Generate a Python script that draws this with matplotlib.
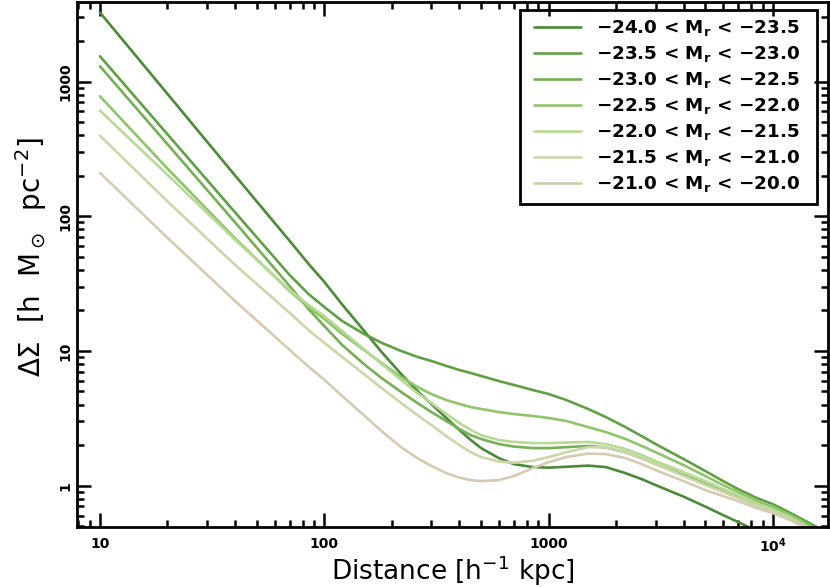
import matplotlib
matplotlib.use("Agg")
import matplotlib.pyplot as plt
from matplotlib.patches import Rectangle
from matplotlib.ticker import FixedLocator, FixedFormatter, LogLocator, NullFormatter

plt.rcParams['font.family'] = ['DejaVu Sans']
plt.rcParams['mathtext.fontset'] = 'dejavusans'

# projected distance (h^-1 kpc)
distance = [10, 20, 40, 70, 85, 100, 120, 150, 180, 220, 260, 300, 350, 400, 450,
            500, 600, 700, 850, 1000, 1200, 1500, 1800, 2200, 2600, 3000, 4000,
            5000, 6000, 7000, 8500, 10000, 12000, 14000, 16000]

# Delta Sigma (h M_sun pc^-2) for each absolute magnitude bin
ds_m240_235 = [3258, 810, 201, 65.8, 44.4, 32.6, 22.2, 14.2, 9.83, 6.75, 5.04, 4.04,
               3.18, 2.59, 2.18, 1.90, 1.60, 1.445, 1.373, 1.36, 1.38, 1.408, 1.373,
               1.238, 1.118, 1.009, 0.828, 0.698, 0.604, 0.536, 0.459, 0.41, 0.355,
               0.31, 0.28]
ds_m235_230 = [1542, 406, 107, 36.7, 26.5, 21.2, 16.7, 13.4, 11.5, 10.0, 9.03, 8.43,
               7.74, 7.22, 6.86, 6.52, 5.98, 5.59, 5.13, 4.79, 4.32, 3.71, 3.23,
               2.72, 2.33, 2.035, 1.574, 1.282, 1.080, 0.942, 0.807, 0.728, 0.625,
               0.545, 0.483]
ds_m230_225 = [1300, 343, 90.2, 30.4, 20.5, 15.3, 11.1, 8.00, 6.30, 4.96, 4.11, 3.52,
               3.02, 2.63, 2.37, 2.22, 2.035, 1.95, 1.90, 1.90, 1.93, 1.97, 1.92,
               1.77, 1.60, 1.445, 1.197, 1.026, 0.910, 0.821, 0.716, 0.646, 0.564,
               0.491, 0.443]
ds_m225_220 = [778, 226, 68.6, 27.9, 21.2, 17.3, 13.4, 10.2, 8.14, 6.41, 5.40, 4.79,
               4.32, 4.04, 3.83, 3.71, 3.52, 3.40, 3.29, 3.18, 3.02, 2.72, 2.50,
               2.22, 1.97, 1.77, 1.42, 1.177, 1.009, 0.895, 0.767, 0.692, 0.604,
               0.526, 0.467]
ds_m220_215 = [609, 203, 66.9, 28.4, 22.0, 18.2, 14.1, 10.35, 8.00, 6.09, 4.87, 4.11,
               3.40, 2.92, 2.59, 2.37, 2.18, 2.11, 2.07, 2.07, 2.09, 2.11, 2.035,
               1.87, 1.69, 1.52, 1.26, 1.08, 0.942, 0.850, 0.729, 0.657, 0.573,
               0.500, 0.451]
ds_m215_210 = [397, 129, 43.6, 19.2, 14.3, 11.5, 9.03, 6.75, 5.31, 4.11, 3.34, 2.82,
               2.33, 2.00, 1.77, 1.63, 1.51, 1.48, 1.53, 1.63, 1.77, 1.93, 1.92,
               1.77, 1.60, 1.445, 1.177, 1.009, 0.895, 0.807, 0.704, 0.635, 0.554,
               0.491, 0.443]
ds_m210_200 = [210, 69.2, 23.5, 10.2, 7.66, 6.12, 4.63, 3.34, 2.54, 1.93, 1.60, 1.40,
               1.238, 1.147, 1.099, 1.080, 1.099, 1.177, 1.349, 1.495, 1.63, 1.73,
               1.715, 1.60, 1.445, 1.304, 1.080, 0.926, 0.835, 0.767, 0.680, 0.625,
               0.554, 0.491, 0.443]

series = [ds_m240_235, ds_m235_230, ds_m230_225, ds_m225_220,
          ds_m220_215, ds_m215_210, ds_m210_200]
labels = ["\u221224.0 < M$_\\mathbf{r}$ < \u221223.5",
          "\u221223.5 < M$_\\mathbf{r}$ < \u221223.0",
          "\u221223.0 < M$_\\mathbf{r}$ < \u221222.5",
          "\u221222.5 < M$_\\mathbf{r}$ < \u221222.0",
          "\u221222.0 < M$_\\mathbf{r}$ < \u221221.5",
          "\u221221.5 < M$_\\mathbf{r}$ < \u221221.0",
          "\u221221.0 < M$_\\mathbf{r}$ < \u221220.0"]
colors = ["#4b8a36", "#60a045", "#74b153", "#8fc468", "#b7da95", "#cdd6a9", "#d6cbb1"]

xticks = [10, 100, 1000, 10000]
xticklabels = ["10", "100", "1000", "10$^\\mathbf{4}$"]
yticks = [1, 10, 100, 1000]
yticklabels = ["1", "10", "100", "1000"]

W, H = 830, 587
fig = plt.figure(figsize=(W / 100, H / 100), dpi=100)
ax = fig.add_axes([77 / W, 1 - 527 / H, 751 / W, 525 / H])

for vals, lab, col in zip(series, labels, colors):
    ax.plot(distance, vals, color=col, lw=1.9, label=lab, solid_capstyle='round')

ax.set_xscale('log')
ax.set_yscale('log')
ax.set_xlim(7.9, 17600)
ax.set_ylim(0.493, 3900)

ax.xaxis.set_major_locator(FixedLocator(xticks))
ax.xaxis.set_major_formatter(FixedFormatter(xticklabels))
ax.yaxis.set_major_locator(FixedLocator(yticks))
ax.yaxis.set_major_formatter(FixedFormatter(yticklabels))
for axis in (ax.xaxis, ax.yaxis):
    axis.set_minor_locator(LogLocator(base=10, subs=range(2, 10), numticks=20))
    axis.set_minor_formatter(NullFormatter())

ax.tick_params(which='both', direction='in', top=True, right=True, width=1.8)
ax.tick_params(which='major', length=10)
ax.tick_params(which='minor', length=5)
ax.tick_params(axis='x', pad=7, labelsize=10)
ax.tick_params(axis='y', pad=3, labelsize=10)
for t in ax.get_xticklabels() + ax.get_yticklabels():
    t.set_fontweight('bold')
for t in ax.get_yticklabels():
    t.set_rotation(90)
    t.set_va('center')
for s in ax.spines.values():
    s.set_linewidth(2)

ax.set_xlabel("Distance [h$^{-1}$ kpc]", fontsize=19, labelpad=-1)
ax.set_ylabel("$\\Delta\\Sigma$  [h  M$_\\odot$  pc$^{-2}$]", fontsize=20)
ax.yaxis.set_label_coords(-0.037, 0.515)

# legend: entries without frame, box drawn separately (wider side margins)
leg = ax.legend(loc='upper right', bbox_to_anchor=(800 / W, 1 - 18 / H),
                bbox_transform=fig.transFigure, fontsize=13.2, frameon=False,
                handlelength=2.55, handletextpad=0.8, labelspacing=0.33,
                borderpad=0, borderaxespad=0)
for t in leg.get_texts():
    t.set_fontweight('bold')
fig.canvas.draw()
bb = leg.get_window_extent()
x0, x1 = bb.x0 - 14, bb.x1 + 17
y0, y1 = bb.y0 - 10, bb.y1 + 8
fig.add_artist(Rectangle((x0 / W, y0 / H), (x1 - x0) / W, (y1 - y0) / H,
                         transform=fig.transFigure, fill=False,
                         edgecolor='black', linewidth=2))

fig.savefig("out.png", dpi=100)
